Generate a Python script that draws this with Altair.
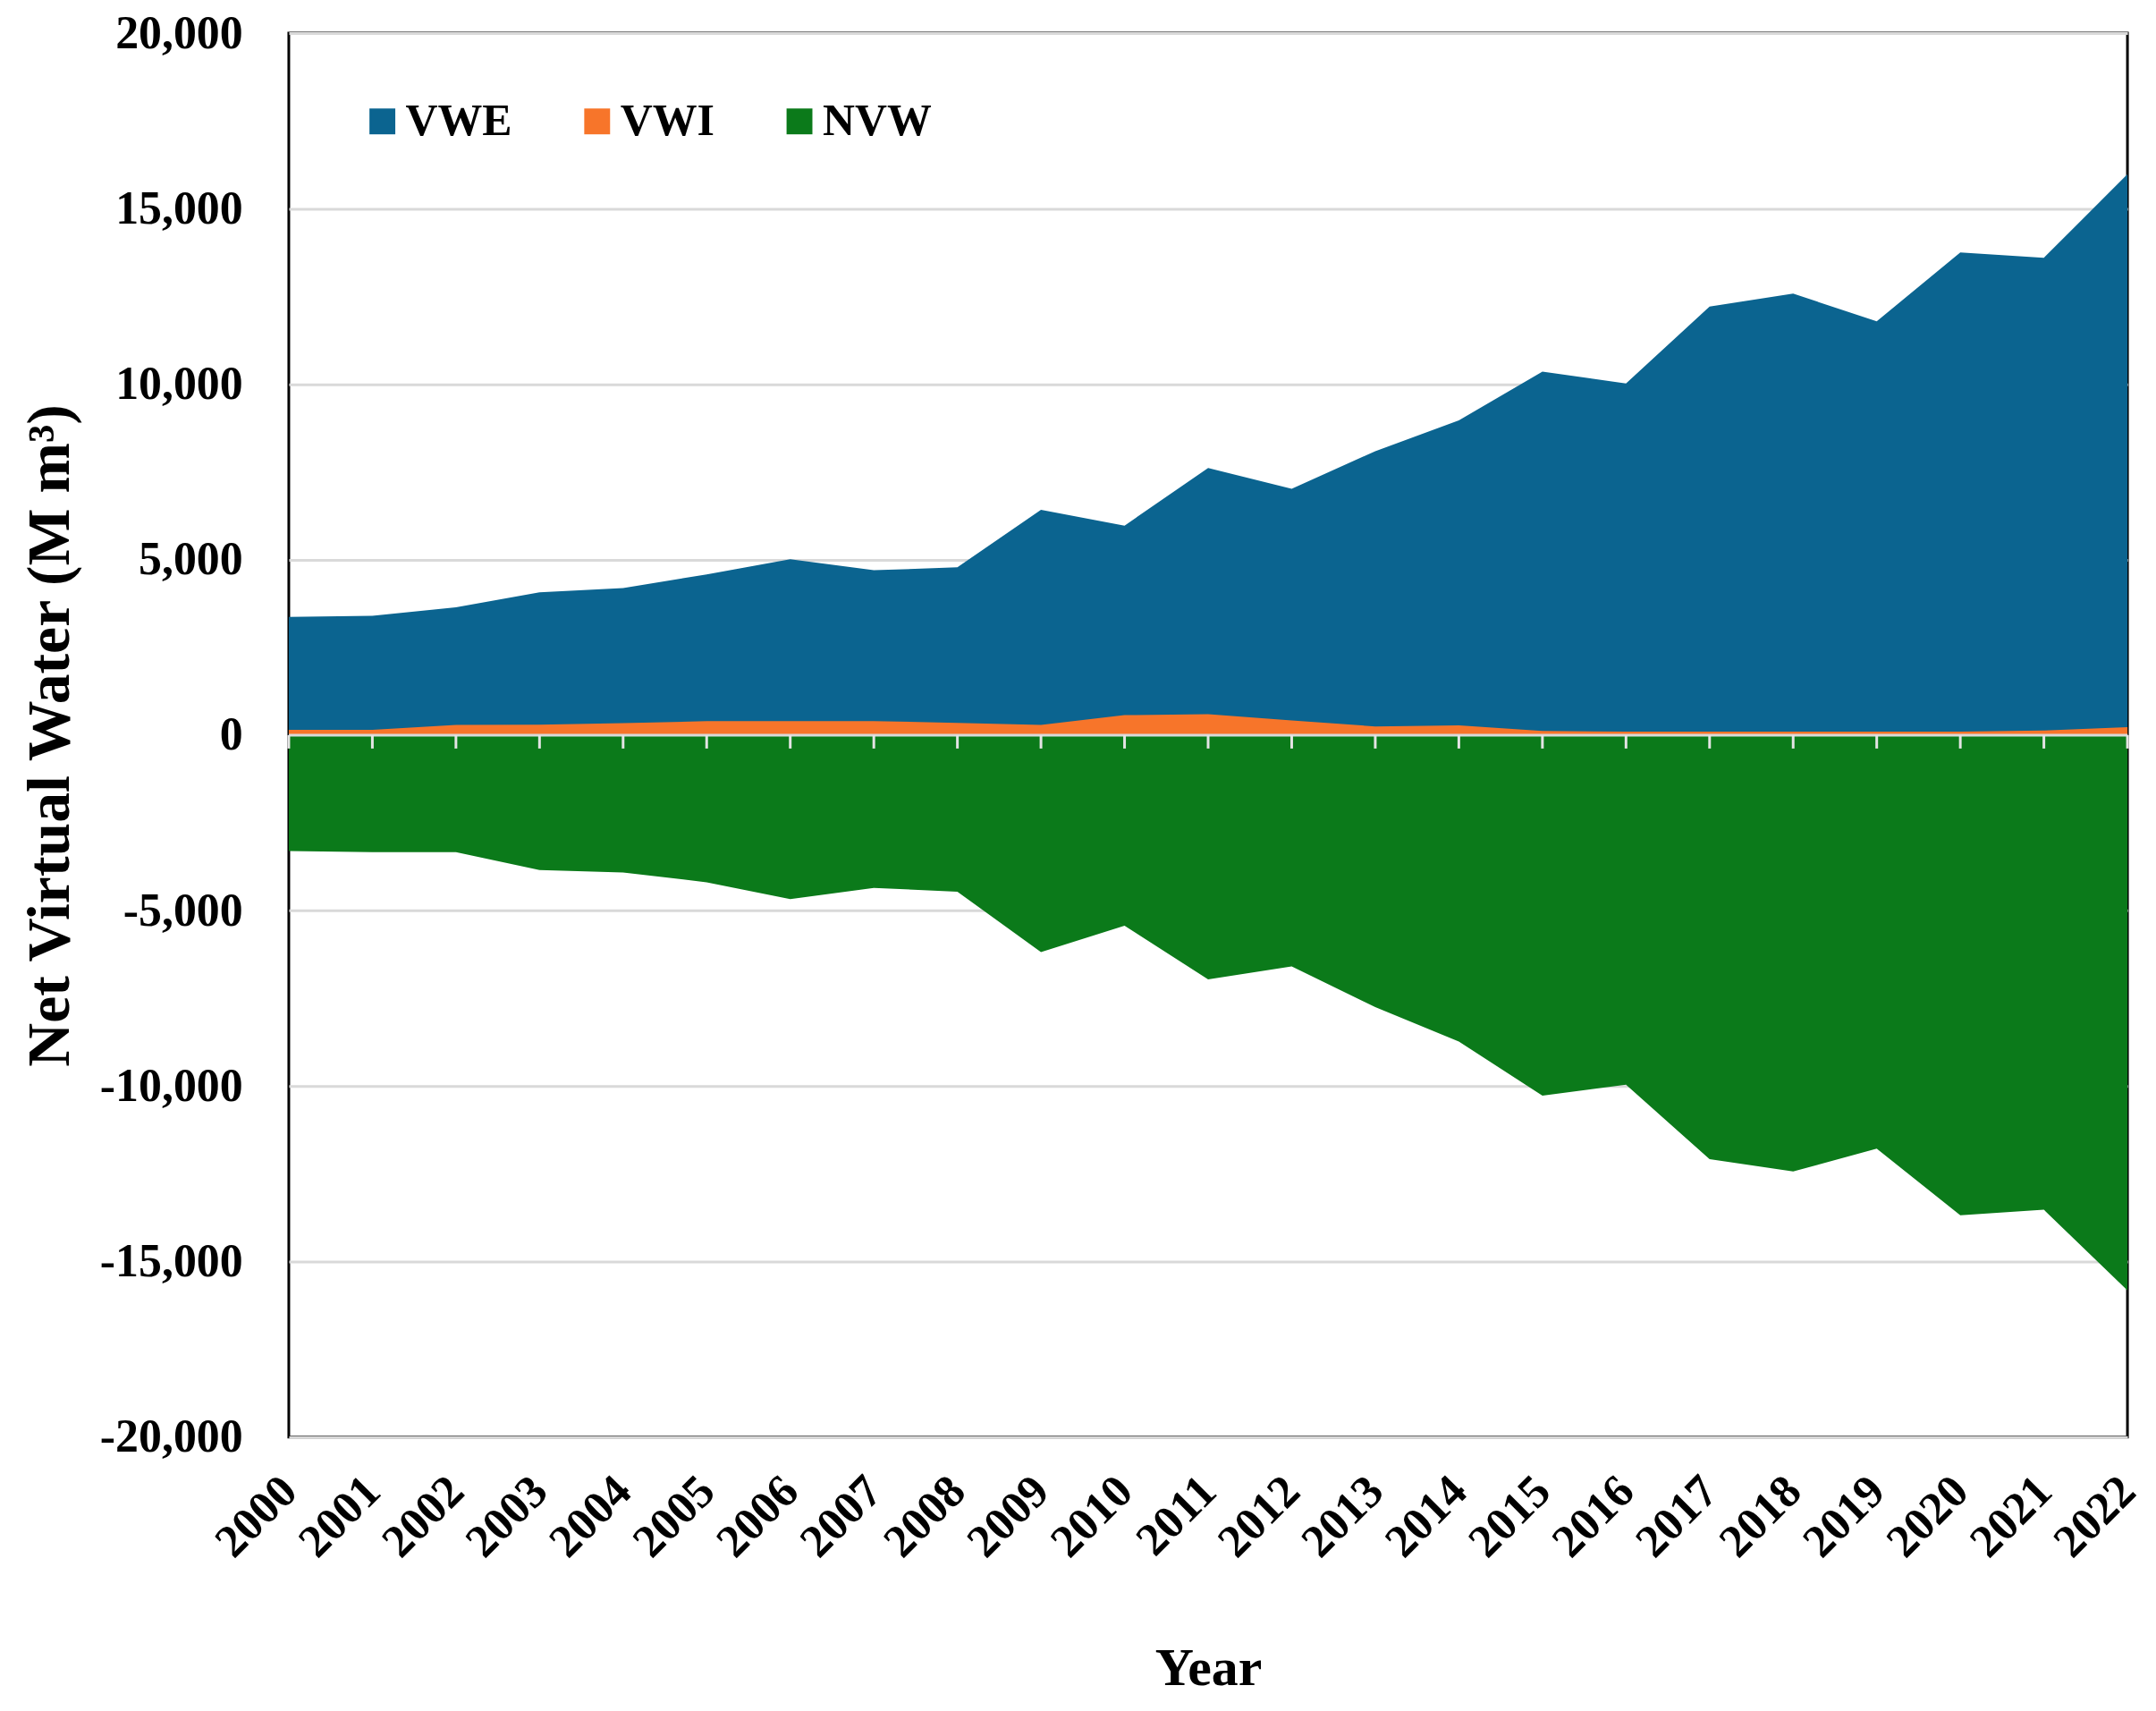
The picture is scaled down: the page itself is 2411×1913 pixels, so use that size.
import altair as alt
import pandas as pd

years = list(range(2000, 2023))
series_names = ["VWE", "VWI", "NVW"]
series_colors = ["#0B6490", "#F7752A", "#0B7A1A"]

vwe = [3370, 3400, 3640, 4070, 4190, 4580, 5010, 4700, 4780, 6420, 5970, 7610,
       7020, 8090, 8970, 10360, 10020, 12210, 12580, 11790, 13750, 13600, 15980]
vwi = [150, 150, 290, 300, 340, 400, 400, 400, 350, 290, 570, 600,
       420, 250, 280, 120, 100, 100, 100, 100, 100, 130, 230]
nvw = [-3300, -3330, -3330, -3840, -3910, -4190, -4670, -4350, -4460, -6180, -5430, -6960,
       -6590, -7750, -8730, -10270, -9960, -12080, -12430, -11780, -13680, -13520, -15820]

y_ticks = [-20000, -15000, -10000, -5000, 0, 5000, 10000, 15000, 20000]

rows = []
for name, vals in zip(series_names, [vwe, vwi, nvw]):
    for yr, v in zip(years, vals):
        rows.append({"Year": yr, "Series": name, "Value": v})
df = pd.DataFrame(rows)

FONT = "Liberation Serif"
W, H = 2063, 1575

x_enc = alt.X(
    "Year:Q",
    scale=alt.Scale(domain=[years[0], years[-1]], nice=False, zero=False),
    axis=alt.Axis(
        values=years, format="d", labelAngle=315, labelAlign="right",
        labelBaseline="middle", labelFontSize=52, labelFont=FONT,
        labelFontWeight="bold", labelColor="black", labelPadding=52,
        labelOverlap=False, labelBound=False, labelFlush=False,
        ticks=False, domain=False, grid=False,
        title="Year", titleFont=FONT, titleFontSize=60, titleFontWeight="bold",
        titleColor="black", titleY=278, titleBaseline="alphabetic",
    ),
)
y_enc = alt.Y(
    "Value:Q",
    scale=alt.Scale(domain=[y_ticks[0], y_ticks[-1]], nice=False),
    axis=alt.Axis(
        values=y_ticks,
        labelExpr="(datum.value < 0 ? '-' : '') + format(abs(datum.value), ',')",
        labelFontSize=52, labelFont=FONT, labelFontWeight="bold", labelColor="black",
        labelPadding=52, ticks=False, domain=False, labelFlush=False,
        grid=True, gridColor="#d9d9d9", gridWidth=3,
        title="Net Virtual Water (M m³)", titleFont=FONT, titleFontSize=68,
        titleFontWeight="bold", titleColor="black", titleX=-247,
        titleBaseline="alphabetic",
    ),
)
color_enc = alt.Color(
    "Series:N",
    scale=alt.Scale(domain=series_names, range=series_colors),
    legend=alt.Legend(
        orient="none", legendX=80, legendY=74, direction="horizontal", title=None,
        symbolType="square", symbolSize=841, symbolStrokeWidth=0, symbolOpacity=1,
        labelFontSize=50, labelFont=FONT, labelFontWeight="bold", labelColor="black",
        columnPadding=70, labelOffset=1,
    ),
)

layers = []
for name in series_names:
    layers.append(
        alt.Chart(df)
        .transform_filter(alt.datum.Series == name)
        .mark_area(opacity=1)
        .encode(x=x_enc, y=y_enc, color=color_enc)
    )

zero_df = pd.DataFrame({"Year": [years[0]], "Year2": [years[-1]], "Value": [0]})
zero_line = alt.Chart(zero_df).mark_rule(color="#d9d9d9", strokeWidth=3).encode(
    x="Year:Q", x2="Year2:Q", y="Value:Q"
)
tick_df = pd.DataFrame({"Year": years, "Value": [0] * len(years)})
zero_px = H / 2
tick_marks = alt.Chart(tick_df).mark_rule(color="#e4e4e4", strokeWidth=3).encode(
    x="Year:Q", y="Value:Q", y2=alt.value(zero_px + 15)
)

chart = (
    alt.layer(*layers, zero_line, tick_marks)
    .properties(
        width=W, height=H,
        autosize=alt.AutoSizeParams(type="none"),
        padding={"left": 316, "top": 26, "right": 24, "bottom": 296},
        background="white",
    )
    .configure_view(stroke="black", strokeWidth=3)
)

chart.save("out.html", embed_options={"renderer": "svg", "actions": False})
